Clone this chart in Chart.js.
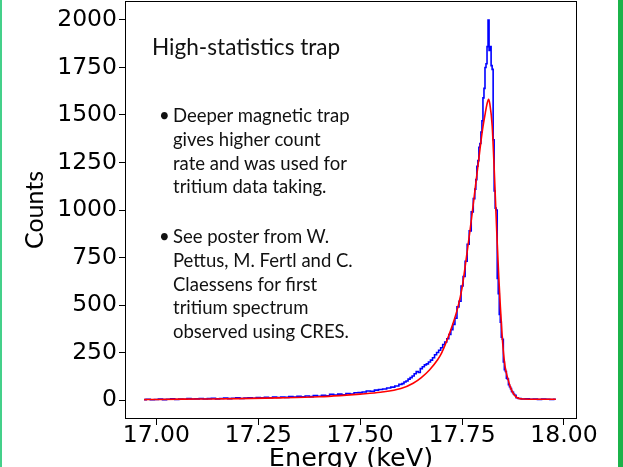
<!DOCTYPE html>
<html>
<head>
<meta charset="utf-8">
<script src="https://cdn.jsdelivr.net/npm/chart.js@4.4.0/dist/chart.umd.min.js"></script>
<style>
  html, body { margin: 0; padding: 0; background: #fff; }
  #wrap { position: relative; width: 623px; height: 467px; overflow: hidden; }
  #edgeL { position: absolute; left: 0; top: 0; width: 2px; height: 467px; background: #44d08a; }
  #edgeR { position: absolute; left: 618px; top: 0; width: 5px; height: 467px; background: #1bb34a; }
  .note { position: absolute; font-family: Lato, "Open Sans", sans-serif; color: #111; white-space: nowrap; }
  #title { left: 152px; top: 33px; font-size: 22.6px; }
  .bl { left: 173px; font-size: 18.5px; line-height: 23.8px; }
  .dot { position: absolute; left: -14px; }
</style>
</head>
<body>
<div id="wrap">
  <canvas id="chart" width="623" height="467"></canvas>
  <div id="edgeL"></div>
  <div id="edgeR"></div>
  <div class="note" id="title">High-statistics trap</div>
  <div class="note bl" style="top:104px"><span class="dot">•</span>Deeper magnetic trap<br>gives higher count<br>rate and was used for<br>tritium data taking.</div>
  <div class="note bl" style="top:225px"><span class="dot">•</span>See poster from W.<br>Pettus, M. Fertl and C.<br>Claessens for first<br>tritium spectrum<br>observed using CRES.</div>
</div>
<script>
// histogram (blue), bin centres in keV and counts
var dataE = [16.97, 16.98, 16.99, 17.00, 17.01, 17.02, 17.03, 17.04, 17.05, 17.06, 17.07, 17.08, 17.09, 17.10,
  17.11, 17.12, 17.13, 17.14, 17.15, 17.16, 17.17, 17.18, 17.19, 17.20, 17.21, 17.22, 17.23, 17.24, 17.25,
  17.26, 17.27, 17.28, 17.29, 17.30, 17.31, 17.32, 17.33, 17.34, 17.35, 17.36, 17.37, 17.38, 17.39, 17.40,
  17.41, 17.42, 17.43, 17.44, 17.45, 17.46, 17.47, 17.48, 17.49, 17.50, 17.51, 17.52, 17.53, 17.54, 17.55,
  17.56, 17.57, 17.58, 17.59, 17.600, 17.605, 17.610, 17.615, 17.620, 17.625, 17.630, 17.635, 17.640, 17.645,
  17.650, 17.655, 17.660, 17.665, 17.670, 17.675, 17.680, 17.685, 17.690, 17.695, 17.700, 17.705, 17.710,
  17.715, 17.720, 17.725, 17.730, 17.735, 17.740, 17.745, 17.750, 17.755, 17.760, 17.765, 17.770, 17.775,
  17.780, 17.7825, 17.785, 17.7875, 17.790, 17.7925, 17.795, 17.7975, 17.800, 17.8025, 17.805, 17.8075,
  17.810, 17.8125, 17.815, 17.8175, 17.820, 17.8225, 17.825, 17.8275, 17.830, 17.8325, 17.835, 17.8375,
  17.840, 17.8425, 17.845, 17.8475, 17.850, 17.8525, 17.855, 17.8575, 17.860, 17.8625, 17.865, 17.8675,
  17.870, 17.8725, 17.875, 17.8775, 17.880, 17.885, 17.890, 17.90, 17.91, 17.92, 17.93, 17.94, 17.95,
  17.96, 17.97, 17.98];
var dataCounts = [2, 4, 1, 3, 5, 2, 4, 6, 3, 5, 4, 7, 5, 6,
  8, 5, 7, 9, 6, 8, 10, 7, 9, 11, 8, 10, 12, 9, 13,
  11, 14, 12, 15, 13, 16, 14, 18, 15, 19, 17, 21, 18, 23, 20,
  25, 22, 30, 26, 31, 28, 34, 31, 38, 39, 42, 47, 46, 52, 55,
  58, 63, 68, 74, 82, 86, 95, 100, 110, 118, 126, 138, 150, 145,
  165, 175, 185, 190, 200, 210, 222, 238, 250, 262, 275, 292, 305,
  322, 345, 370, 398, 430, 490, 520, 600, 650, 730, 820, 890, 990,
  1060, 1110, 1160, 1230, 1260, 1330, 1350, 1410, 1470, 1590, 1640, 1750,
  1770, 1860, 2000, 1840, 1860, 1760, 1740, 1370, 1100, 1010, 1000, 640,
  560, 450, 410, 330, 320, 200, 160, 150, 115, 110, 80, 70,
  60, 45, 40, 30, 25, 12, 8, 5, 6, 4, 5, 3, 5,
  4, 3, 4];

// fit curve (red)
var fitE = [16.97, 17.00, 17.10, 17.20, 17.30, 17.40, 17.45, 17.50, 17.55, 17.60, 17.63, 17.65, 17.67,
  17.69, 17.70, 17.72, 17.74, 17.75, 17.76, 17.77, 17.78, 17.79, 17.80, 17.807, 17.811, 17.815, 17.818,
  17.824, 17.828, 17.832, 17.836, 17.84, 17.844, 17.848, 17.852, 17.856, 17.862, 17.869, 17.877, 17.885,
  17.90, 17.94, 17.98];
var fitCounts = [2, 3, 5, 7, 11, 17, 23, 31, 41, 60, 88, 118, 158,
  212, 248, 355, 490, 590, 740, 900, 1075, 1250, 1420, 1510, 1556, 1583, 1560,
  1440, 1260, 1050, 840, 650, 490, 350, 240, 170, 115, 65, 30, 12,
  5, 4, 4];

var xTicks = [17.00, 17.25, 17.50, 17.75, 18.00];
var yTicks = [0, 250, 500, 750, 1000, 1250, 1500, 1750, 2000];

function pts(xs, ys) {
  var out = [];
  for (var i = 0; i < xs.length; i++) out.push({ x: xs[i], y: ys[i] });
  return out;
}

// matplotlib style full box round the plot
const frame = {
  id: 'frame',
  afterDraw(chart) {
    const a = chart.chartArea, ctx = chart.ctx;
    ctx.save();
    ctx.strokeStyle = '#000';
    ctx.lineWidth = 1;
    ctx.strokeRect(Math.round(a.left) + 0.5, Math.round(a.top) + 0.5,
      Math.round(a.right - a.left) - 1, Math.round(a.bottom - a.top) - 1);
    ctx.restore();
  }
};

const tickFont = { family: 'DejaVu Sans', size: 23.5 };

new Chart(document.getElementById('chart'), {
  type: 'line',
  data: {
    datasets: [
      {
        label: 'fit',
        data: pts(fitE, fitCounts),
        borderColor: '#ff0000',
        borderWidth: 1.6,
        pointRadius: 0,
        cubicInterpolationMode: 'monotone',
        fill: false
      },
      {
        label: 'data',
        data: pts(dataE, dataCounts),
        borderColor: '#0000ff',
        borderWidth: 1.6,
        pointRadius: 0,
        stepped: 'middle',
        fill: false
      }
    ]
  },
  options: {
    responsive: false,
    animation: false,
    layout: { padding: { top: 1, right: 46, left: 0, bottom: 0 } },
    plugins: { legend: { display: false }, tooltip: { enabled: false } },
    scales: {
      x: {
        type: 'linear',
        min: 16.923,
        max: 18.032,
        afterFit(s) { s.height = 48; s.paddingLeft = 0; s.paddingRight = 0; },
        afterBuildTicks(s) { s.ticks = xTicks.map(v => ({ value: v })); },
        grid: { display: true, drawOnChartArea: false, drawTicks: true, tickLength: 6, color: '#000' },
        border: { display: false },
        ticks: {
          color: '#000', font: tickFont, padding: -3, maxRotation: 0, autoSkip: false,
          callback: v => v.toFixed(2)
        },
        title: {
          display: true, text: 'Energy (keV)', color: '#000',
          font: { family: 'DejaVu Sans', size: 25.5, lineHeight: 0.6 }, padding: 0
        }
      },
      y: {
        min: -100,
        max: 2100,
        afterFit(s) { s.width = 125; s.paddingTop = 0; s.paddingBottom = 0; },
        afterBuildTicks(s) { s.ticks = yTicks.map(v => ({ value: v })); },
        grid: { display: true, drawOnChartArea: false, drawTicks: true, tickLength: 6, color: '#000' },
        border: { display: false },
        ticks: { color: '#000', font: tickFont, padding: 2, callback: v => String(v) },
        title: {
          display: true, text: 'Counts', color: '#000',
          font: { family: 'Lato', size: 25, lineHeight: 1.2 }, padding: { top: 20, bottom: 0 }
        }
      }
    }
  },
  plugins: [frame]
});
</script>
</body>
</html>
